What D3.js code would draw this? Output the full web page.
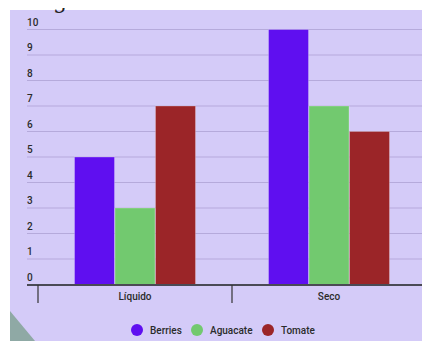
<!DOCTYPE html>
<html>
<head>
<meta charset="utf-8">
<script src="https://cdn.jsdelivr.net/npm/d3@7"></script>
<style>
  html, body { margin: 0; padding: 0; background: #ffffff; }
  svg { display: block; }
  text { font-family: Roboto, "Noto Sans", sans-serif; }
</style>
</head>
<body>
<svg id="chart" width="422" height="341"></svg>
<script>
// Chart data
const categories = ["Líquido", "Seco"];
const seriesNames = ["Berries", "Aguacate", "Tomate"];
const berries = [5, 10];
const aguacate = [3, 7];
const tomate = [7, 6];
const yTicks = [0, 1, 2, 3, 4, 5, 6, 7, 8, 9, 10];

const colors = ["#5f0ff0", "#72c96f", "#9b2528"];
const seriesValues = [berries, aguacate, tomate];

const svg = d3.select("#chart");
const W = 422, H = 341;

// Panel background
svg.append("rect").attr("x", 10).attr("y", 10).attr("width", W - 10).attr("height", H - 10)
  .attr("fill", "#d4cbf8");

// Corner shading at the lower left
svg.append("path")
  .attr("d", "M10,311 L35,341 L10,341 Z")
  .attr("fill", "#8fa9a5");

// Title (only its descender shows below the top edge)
svg.append("clipPath").attr("id", "titleClip")
  .append("rect").attr("x", 0).attr("y", 8).attr("width", W).attr("height", 10);
svg.append("text")
  .attr("x", 53).attr("y", 8)
  .attr("clip-path", "url(#titleClip)")
  .style("font-family", "'DejaVu Serif', serif")
  .style("font-size", "22px")
  .attr("fill", "#222")
  .text("g");

const plotLeft = 27, plotRight = 422;
const y = d3.scaleLinear().domain([0, 10]).range([284.5, 29.5]);

const x0 = d3.scaleBand().domain(categories).range([38, 426]).paddingInner(0).paddingOuter(0);
const x1 = d3.scaleBand().domain(seriesNames).range([0, 121]).paddingInner(0.012);
const groupOffset = (x0.bandwidth() - 121) / 2;

// Gridlines and tick labels
const grid = svg.append("g");
grid.selectAll("line").data(yTicks.filter(d => d > 0)).join("line")
  .attr("x1", plotLeft).attr("x2", plotRight)
  .attr("y1", d => y(d)).attr("y2", d => y(d))
  .attr("stroke", "#b5aadb").attr("stroke-width", 1.2);
grid.selectAll("text").data(yTicks).join("text")
  .attr("x", plotLeft).attr("y", d => y(d) - 4)
  .attr("fill", "#2b2b2b")
  .style("font-size", "10px").style("font-weight", 500)
  .text(d => d);

// Bars
const groups = svg.append("g").selectAll("g").data(categories).join("g")
  .attr("transform", c => `translate(${x0(c) + groupOffset},0)`);
groups.selectAll("rect")
  .data((c, i) => seriesNames.map((s, k) => ({ s, v: seriesValues[k][i], k })))
  .join("rect")
  .attr("x", d => x1(d.s))
  .attr("width", x1.bandwidth())
  .attr("y", d => y(d.v))
  .attr("height", d => y(0) - y(d.v))
  .attr("fill", d => colors[d.k])
  .attr("stroke", "#ffffff").attr("stroke-opacity", 0.25).attr("stroke-width", 1);

// Category axis
const xAxis = svg.append("g");
xAxis.append("line")
  .attr("x1", plotLeft).attr("x2", plotRight).attr("y1", 285).attr("y2", 285)
  .attr("stroke", "#4a4a55").attr("stroke-width", 2);
xAxis.selectAll("line.tick").data(categories).join("line").attr("class", "tick")
  .attr("x1", c => x0(c)).attr("x2", c => x0(c))
  .attr("y1", 285).attr("y2", 303)
  .attr("stroke", "#333").attr("stroke-width", 1.2);
xAxis.selectAll("text").data(categories).join("text")
  .attr("x", c => x0(c) + x0.bandwidth() / 2).attr("y", 300)
  .attr("text-anchor", "middle")
  .attr("fill", "#2b2b2b")
  .style("font-size", "10px").style("font-weight", 500)
  .text(c => c);

// Legend
const legendX = [137, 197, 268];
const legend = svg.append("g").selectAll("g").data(seriesNames).join("g")
  .attr("transform", (s, i) => `translate(${legendX[i]},330)`);
legend.append("circle").attr("r", 6).attr("fill", (s, i) => colors[i]);
legend.append("text").attr("x", 13).attr("y", 3.5)
  .attr("fill", "#2b2b2b")
  .style("font-size", "10px").style("font-weight", 500)
  .text(s => s);
</script>
</body>
</html>
